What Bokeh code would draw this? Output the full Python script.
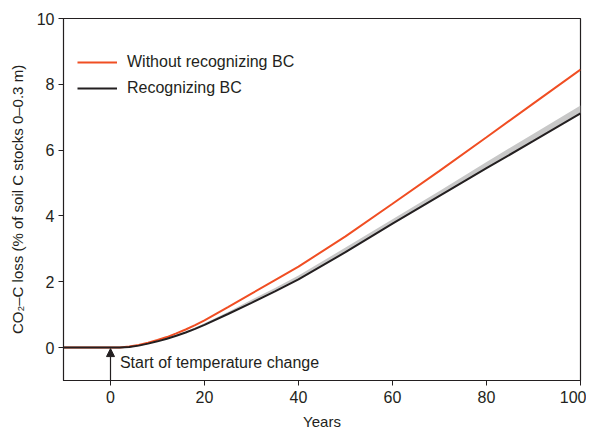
from bokeh.plotting import figure
from bokeh.models import Range1d, Legend, LegendItem, Arrow, NormalHead, FixedTicker, Label
from bokeh.embed import file_html
from bokeh.resources import INLINE

# Data
years = [-10, 0, 2, 4, 6, 8, 10, 12, 14, 16, 18, 20, 25, 30, 35, 40, 50, 60, 70, 80, 90, 100]
without_bc = [0, 0, 0.005, 0.03, 0.08, 0.15, 0.23, 0.32, 0.43, 0.55, 0.68, 0.83, 1.23, 1.64, 2.05, 2.46, 3.38, 4.37, 5.37, 6.39, 7.42, 8.45]
with_bc = [0, 0, 0.003, 0.02, 0.06, 0.12, 0.19, 0.27, 0.36, 0.46, 0.57, 0.69, 1.02, 1.36, 1.71, 2.07, 2.90, 3.77, 4.61, 5.45, 6.28, 7.12]
with_bc_upper = [0, 0, 0.003, 0.021, 0.062, 0.125, 0.20, 0.29, 0.38, 0.49, 0.61, 0.74, 1.08, 1.45, 1.81, 2.19, 3.04, 3.90, 4.76, 5.64, 6.50, 7.36]

x_ticks = [0, 20, 40, 60, 80, 100]
y_ticks = [0, 2, 4, 6, 8, 10]

FONT = "Liberation Sans Narrow, Liberation Sans, Arial Narrow, sans-serif"
RED = "#f04e23"
BLACK = "#231f20"

p = figure(width=586, height=421, output_backend="svg", toolbar_location=None,
           x_range=Range1d(-10, 100), y_range=Range1d(-1, 10),
           min_border_left=63, min_border_right=6, min_border_top=18, min_border_bottom=30)
p.frame_width = 517
p.frame_height = 362

p.varea(x=years, y1=with_bc, y2=with_bc_upper, fill_color="#c8c8c8")
r_red = p.line(years, without_bc, line_color=RED, line_width=2)
r_blk = p.line(years, with_bc, line_color=BLACK, line_width=2)

p.xgrid.visible = False
p.ygrid.visible = False
p.outline_line_color = BLACK
p.outline_line_width = 1.2
p.background_fill_color = "white"
p.border_fill_color = "white"

for ax in (p.xaxis[0], p.yaxis[0]):
    ax.minor_tick_line_color = None
    ax.major_tick_in = 0
    ax.major_tick_out = 5
    ax.major_tick_line_color = BLACK
    ax.axis_line_color = BLACK
    ax.major_label_text_font = FONT
    ax.major_label_text_font_size = "16px"
    ax.major_label_text_color = BLACK
    ax.axis_label_text_font = FONT
    ax.axis_label_text_font_size = "15px"
    ax.axis_label_text_font_style = "normal"
    ax.axis_label_text_color = BLACK

p.xaxis.ticker = FixedTicker(ticks=x_ticks)
p.yaxis.ticker = FixedTicker(ticks=y_ticks)
p.xaxis.axis_label = "Years"
p.xaxis.axis_label_standoff = 7
p.yaxis.axis_label = "CO\u2082\u2013C loss (% of soil C stocks 0\u20130.3 m)"
p.yaxis.axis_label_standoff = 8
p.yaxis.major_label_standoff = 4
p.xaxis.major_label_standoff = 5

p.add_layout(Arrow(end=NormalHead(size=8, fill_color=BLACK, line_color=BLACK),
                   x_start=0, y_start=-1, x_end=0, y_end=-0.03,
                   line_color=BLACK, line_width=1.2))
p.add_layout(Label(x=2, y=-0.45, text="Start of temperature change",
                   text_font=FONT, text_font_size="16px", text_color=BLACK,
                   text_baseline="middle"))

legend = Legend(items=[LegendItem(label="Without recognizing BC", renderers=[r_red]),
                       LegendItem(label="Recognizing BC", renderers=[r_blk])],
                location=(4, 272), border_line_alpha=0, background_fill_alpha=0,
                label_text_font=FONT, label_text_font_size="16px", label_text_color=BLACK,
                glyph_width=40, spacing=6, label_standoff=10)
p.add_layout(legend)

open("out.html", "w").write(file_html(p, INLINE))
